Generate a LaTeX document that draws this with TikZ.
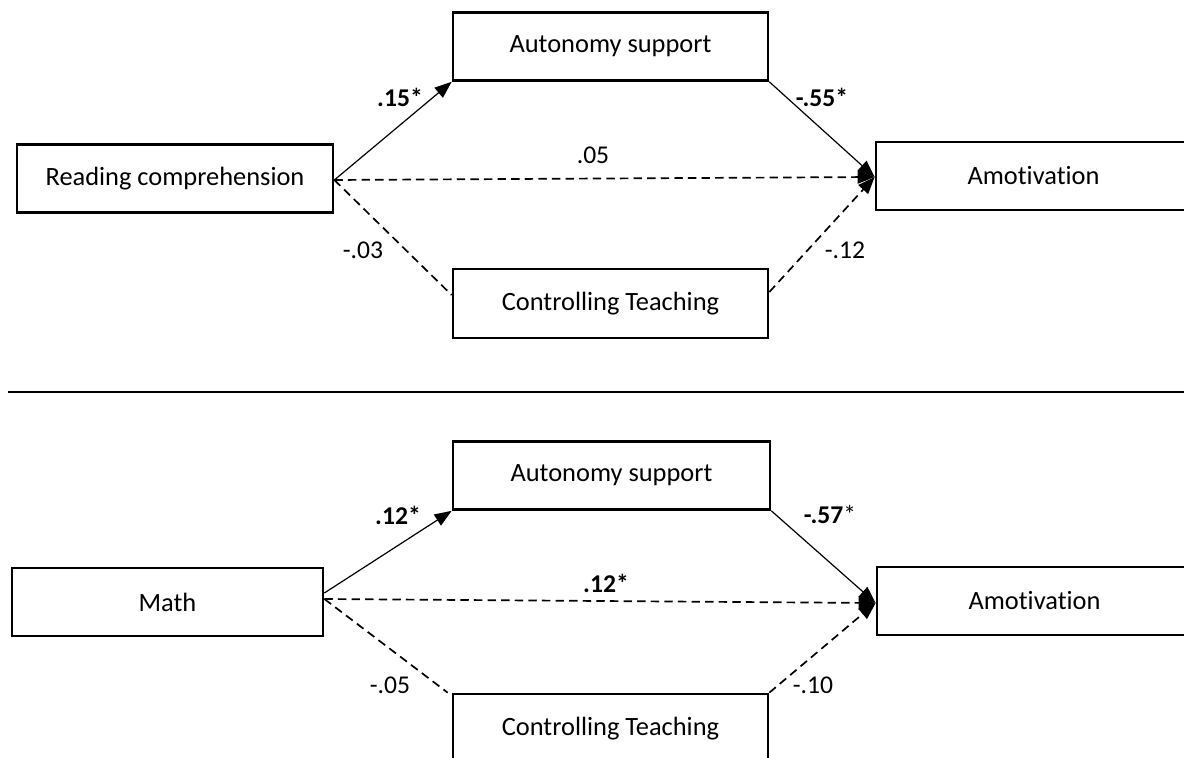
\documentclass[tikz,border=0pt]{standalone}
\usepackage{fontspec}
\setmainfont{Carlito}[Ligatures=NoCommon]
\usetikzlibrary{arrows.meta,calc}
\begin{document}
\begin{tikzpicture}[x=0.5pt,y=-0.5pt,
  box/.style={draw, line width=1.35pt, inner sep=0pt, minimum height=34pt, font=\fontsize{13.2}{15}\selectfont},
  lbl/.style={font=\fontsize{12.8}{15}\selectfont, inner sep=0pt},
  blbl/.style={lbl, font=\fontsize{12.8}{15}\selectfont\bfseries},
  path/.style={line width=0.6pt, -{Triangle[length=8.5pt,width=6.5pt]}},
  dpath/.style={line width=0.85pt, dash pattern=on 4.2pt off 2.6pt},
  dpatha/.style={dpath, -{Triangle[length=8.5pt,width=6.5pt]}}]
\useasboundingbox (0,0) rectangle (1184,758);
\clip (0,0) rectangle (1184,758);
% ---------- top panel ----------
\node[box, minimum width=157.5pt] (auto1) at (610.5,46.5) {Autonomy support};
\node[box, minimum width=158pt] (rc) at (175,178.5) {Reading comprehension};
\node[box, minimum width=157.5pt] (amo1) at (1033.5,176) {Amotivation};
\node[box, minimum width=157.5pt, minimum height=34.5pt] (ct1) at (610.5,303.5) {Controlling Teaching};
\coordinate (rcO) at ([yshift=-0.75pt]rc.east);
\coordinate (amoI) at ([yshift=-0.5pt]amo1.west);
\coordinate (ctL) at ([yshift=4.25pt]ct1.west);
\coordinate (ctR) at ([yshift=5.75pt]ct1.east);
\draw[path] (rcO) -- (auto1.south west);
\draw[path] (auto1.south east) -- (amoI);
\draw[dpatha] (rcO) -- (amoI);
\draw[dpath] (rcO) -- (ctL);
\draw[dpatha] (ctR) -- (amoI);
\node[blbl] (l1) at (400,97) {.15*};
\node[blbl] (l2) at (822,97) {-.55*};
\node[lbl] (l3) at (593,155) {.05};
\node[lbl] (l4) at (363,250) {-.03};
\node[lbl] (l5) at (845,250) {-.12};
% ---------- divider ----------
\coordinate (dl) at (8,392);
\coordinate (dr) at (1184,392);
\draw[line width=1.4pt] (dl) -- (dr);
% ---------- bottom panel ----------
\node[box, minimum width=158.5pt] (auto2) at (611.5,475.5) {Autonomy support};
\node[box, minimum width=155.5pt] (math) at (167.5,602) {Math};
\node[box, minimum width=157.5pt] (amo2) at (1034.5,601) {Amotivation};
\node[box, minimum width=157.5pt, minimum height=34.5pt] (ct2) at (610.5,728.5) {Controlling Teaching};
\coordinate (mS) at ([yshift=4.5pt]math.east);
\coordinate (mD) at ([yshift=1.5pt]math.east);
\coordinate (amoJ) at ([yshift=-1pt]amo2.west);
\draw[path] (mS) -- (auto2.south west);
\draw[path] (auto2.south east) -- (amoJ);
\draw[dpatha] (mD) -- (amoJ);
\draw[dpath] (mD) -- ([xshift=-2pt]ct2.north west);
\draw[dpatha] (ct2.north east) -- (amoJ);
\node[blbl] (m1) at (398,515) {.12*};
\node[lbl] (m2) at (830,515) {\textbf{-.57}*};
\node[blbl] (m3) at (606,583) {.12*};
\node[lbl] (m4) at (390,685) {-.05};
\node[lbl] (m5) at (813,685) {-.10};
\end{tikzpicture}
\end{document}
